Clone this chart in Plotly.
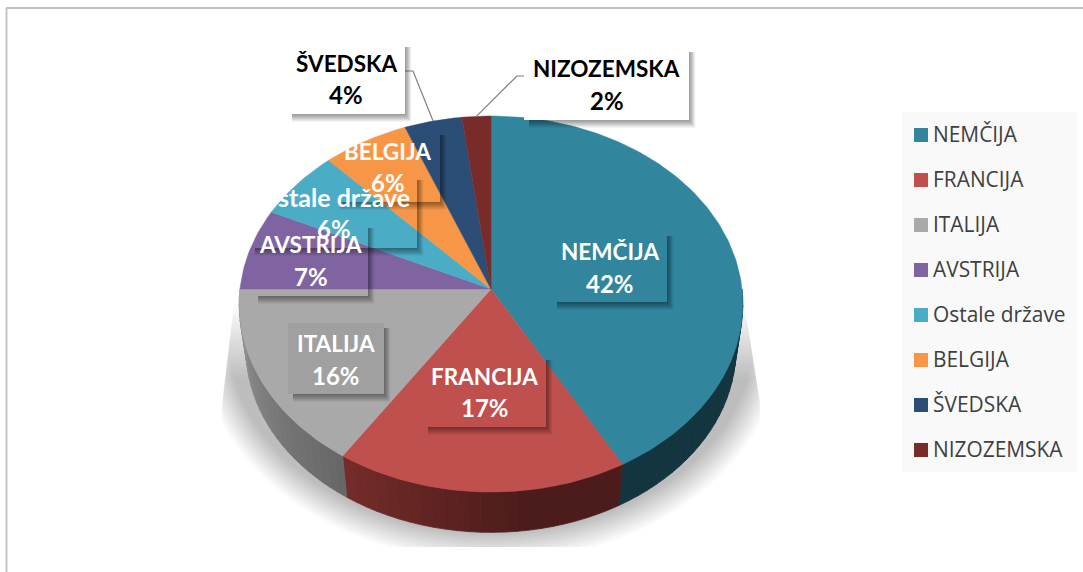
import math
import plotly.graph_objects as go

# ---------- data ----------
categories = ["NEMČIJA", "FRANCIJA", "ITALIJA", "AVSTRIJA", "Ostale države", "BELGIJA", "ŠVEDSKA", "NIZOZEMSKA"]
shares = [41.9, 17.4, 15.7, 7.0, 6.0, 6.0, 4.0, 2.0]
face_colors = ["#31859C", "#C0504D", "#A9A9A9", "#8064A2", "#4BACC6", "#F79646", "#2C4D75", "#772C2A"]

# ---------- layout constants (pixel-mapped axes) ----------
W, H = 1083, 572
CX, CY = 491, 289
RX, RY, K = 251, 186.8, 0.08      # perspective disc
S, DROP = 0.972, 46               # lower rim of the disc

label_boxes = {
    "NEMČIJA": (552, 231, 667, 302),
    "FRANCIJA": (423, 355, 546, 427),
    "ITALIJA": (288, 323, 384, 394),
    "AVSTRIJA": (253, 223, 368, 296),
    "Ostale države": (250, 175, 417, 248),
    "BELGIJA": (335, 130, 440, 202),
    "ŠVEDSKA": (287, 42, 405, 114),
    "NIZOZEMSKA": (524, 47, 689, 120),
}
outside_leaders = {"ŠVEDSKA": [(402, 71), (413, 71)], "NIZOZEMSKA": [(529, 76), (517, 76)]}


def rim(frac, scale=1.0, drop=0.0):
    t = 2 * math.pi * frac
    u, v = math.sin(t), -math.cos(t)
    d = 1 - K * v
    return CX + scale * RX * u / d, CY + drop + scale * RY * v / d


def lerp_hex(a, b, t):
    ca = [int(a[i:i + 2], 16) for i in (1, 3, 5)]
    cb = [int(b[i:i + 2], 16) for i in (1, 3, 5)]
    return "#%02x%02x%02x" % tuple(round(x + (y - x) * t) for x, y in zip(ca, cb))


total = sum(shares)
starts, c = [], 0
for s in shares:
    starts.append(c / total)
    c += s
ends = starts[1:] + [1.0]

fig = go.Figure()

# soft cast shadow under the disc
shapes = []
N_SH = 22
for i in range(N_SH):
    grow = 30 - i * 30 / N_SH
    top = 300 + (N_SH - i) * 3.5
    pts = []
    for j in range(241):
        a = 2 * math.pi * j / 240
        x = CX + (262 + grow) * math.sin(a)
        y = 336 + (196 + grow) * -math.cos(a)
        y = max(min(y, 547), top)
        lo = max(222, 232 - (y - 320) * 0.12)
        hi = min(760, 747 + (y - 320) * 0.16)
        pts.append((min(max(x, lo), hi), y))
    path = "M" + "L".join(f"{x:.1f},{y:.1f}" for x, y in pts) + "Z"
    shapes.append(dict(type="path", path=path, xref="x", yref="y", layer="below",
                       fillcolor="rgba(0,0,0,0.011)", line_width=0))

# side wall, split into strips for the gradient
wall_grad = {
    "NEMČIJA": ("#13353F", "#13353F"),
    "FRANCIJA": ("#4B1C1B", "#742B29"),
    "ITALIJA": ("#676767", "#939393"),
}
for name, a, b in zip(categories, starts, ends):
    if name not in wall_grad:
        continue
    c0, c1 = wall_grad[name]
    if name == "NEMČIJA":
        a = 0.25
    if name == "ITALIJA":
        b = 0.75
    n = 24
    for i in range(n):
        f0 = a + (b - a) * i / n
        f1 = a + (b - a) * (i + 1) / n
        t = i / (n - 1)
        if name == "FRANCIJA":
            t = max(0.0, (t - 0.35) / 0.65)
        col = lerp_hex(c0, c1, t)
        fr = [f0 + (f1 - f0) * q / 4 for q in range(5)]
        top = [rim(f) for f in fr]
        bot = [rim(f, S, DROP) for f in reversed(fr)]
        poly = top + bot + top[:1]
        fig.add_trace(go.Scatter(x=[p[0] for p in poly], y=[p[1] for p in poly], mode="lines",
                                 fill="toself", fillcolor=col, line=dict(width=0.8, color=col),
                                 hoverinfo="skip", showlegend=False))

# top face slices
for name, share, a, b, col in zip(categories, shares, starts, ends, face_colors):
    n = max(8, int((b - a) * 360))
    pts = [(CX, CY)] + [rim(a + (b - a) * i / n) for i in range(n + 1)] + [(CX, CY)]
    fig.add_trace(go.Scatter(x=[p[0] for p in pts], y=[p[1] for p in pts], mode="lines", fill="toself",
                             fillcolor=col, line=dict(width=0.5, color=col), name=name,
                             text=f"{name}: {round(share)}%", hoverinfo="text", hoveron="fills",
                             showlegend=False))

# label shadows, white boxes, leaders
annotations = []
for name, share, a, b in zip(categories, shares, starts, ends):
    x0, y0, x1, y1 = label_boxes[name]
    outside = name in outside_leaders
    if outside:
        pts = outside_leaders[name] + [rim((a + b) / 2)]
        fig.add_trace(go.Scatter(x=[p[0] for p in pts], y=[p[1] for p in pts], mode="lines",
                                 line=dict(color="#7F7F7F", width=1.2), hoverinfo="skip", showlegend=False))
    for w, alpha in ((8, 0.04), (7, 0.05), (6, 0.06), (5, 0.06), (4, 0.06), (3, 0.06), (2, 0.06), (1, 0.06)):
        sx, sy = x0 + 5, y0 + 5
        path = (f"M{x1},{sy}L{x1 + w * 0.8},{sy}L{x1 + w * 0.8},{y1 + w}L{sx},{y1 + w}L{sx},{y1}L{x1},{y1}Z")
        shapes.append(dict(type="path", path=path, xref="x", yref="y", layer="above",
                           fillcolor=f"rgba(0,0,0,{alpha})", line_width=0))
    if outside:
        shapes.append(dict(type="rect", x0=x0, y0=y0, x1=x1, y1=y1, xref="x", yref="y", layer="above",
                           fillcolor="white", line_width=0))
    elif name == "ITALIJA":
        shapes.append(dict(type="rect", x0=x0, y0=y0, x1=x1, y1=y1, xref="x", yref="y", layer="above",
                           fillcolor="rgba(0,0,0,0.05)", line_width=0))
    color = "#000000" if outside else "#FFFFFF"
    cx, cy = (x0 + x1) / 2, (y0 + y1) / 2
    name_size = 25 if name != name.upper() else 22.5
    annotations.append(dict(x=cx, y=cy - 15, xref="x", yref="y", showarrow=False, text=name,
                            font=dict(family="Lato", size=name_size, color=color, weight="bold")))
    annotations.append(dict(x=cx, y=cy + 16.5, xref="x", yref="y", showarrow=False, text=f"{round(share)}%",
                            font=dict(family="Lato", size=24, color=color, weight="bold")))

# legend panel and frame
shapes.append(dict(type="rect", x0=902, y0=112, x1=1077, y1=472, xref="x", yref="y", layer="below",
                   fillcolor="#F9F9F9", line_width=0))
shapes.append(dict(type="line", x0=6.5, y0=8, x1=6.5, y1=H, xref="x", yref="y", layer="below",
                   line=dict(color="#C6C6C6", width=2)))
shapes.append(dict(type="line", x0=6, y0=8, x1=W, y1=8, xref="x", yref="y", layer="below",
                   line=dict(color="#C0C0C0", width=2)))

# legend drawn as marker and text traces
legend_y = [135 + 45 * i for i in range(len(categories))]
fig.add_trace(go.Scatter(x=[921] * len(categories), y=legend_y, mode="markers",
                         marker=dict(symbol="square", size=14, color=face_colors),
                         hoverinfo="skip", showlegend=False, cliponaxis=False))
fig.add_trace(go.Scatter(x=[933] * len(categories), y=[v + 1.5 for v in legend_y], mode="text", text=categories,
                         textposition="middle right",
                         textfont=dict(family="Open Sans", size=20.9, color="#404040"),
                         hoverinfo="skip", showlegend=False, cliponaxis=False))

fig.update_layout(width=W, height=H, margin=dict(l=0, r=0, t=0, b=0), paper_bgcolor="white",
                  plot_bgcolor="white", showlegend=False, shapes=shapes, annotations=annotations,
                  xaxis=dict(range=[0, W], visible=False, fixedrange=True),
                  yaxis=dict(range=[H, 0], visible=False, fixedrange=True))

fig.write_html("out.html", config={"displayModeBar": False},
               post_script="document.body.style.margin='0';document.documentElement.style.overflow='hidden';")
